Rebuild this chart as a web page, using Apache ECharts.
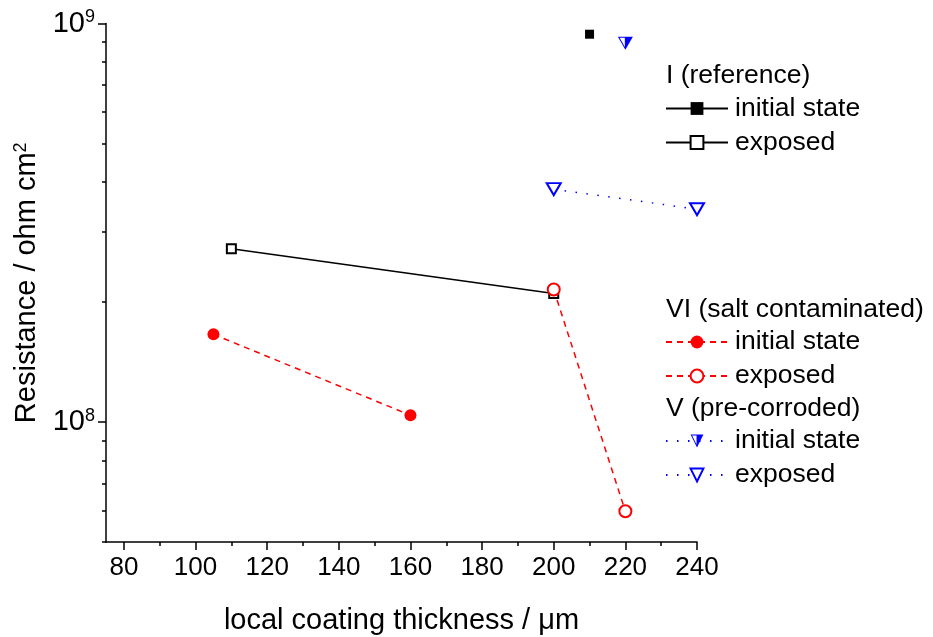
<!DOCTYPE html>
<html><head><meta charset="utf-8">
<script src="https://cdn.jsdelivr.net/npm/echarts@6/dist/echarts.min.js"></script>
<style>html,body{margin:0;padding:0;background:#fff}#c{width:933px;height:637px}</style>
</head><body><div id="c"></div>
<script>
// ---- data ----
const refInitX = [210];        const refInitY = [9.4e8];
const refExpX  = [110, 200];   const refExpY  = [2.72e8, 2.10e8];
const saltInitX = [105, 160];  const saltInitY = [1.66e8, 1.04e8];
const saltExpX  = [200, 220];  const saltExpY  = [2.15e8, 5.97e7];
const corrInitX = [220];       const corrInitY = [8.92e8];
const corrExpX  = [200, 240];  const corrExpY  = [3.84e8, 3.42e8];

const xMajorTicks = [80, 100, 120, 140, 160, 180, 200, 220, 240];
const xMinorTicks = [90, 110, 130, 150, 170, 190, 210, 230];
const yMajorTicks = [1e8, 1e9];
const yMinorTicks = [5e7, 6e7, 7e7, 8e7, 9e7, 2e8, 3e8, 4e8, 5e8, 6e8, 7e8, 8e8, 9e8];

const groupTitles = ['I (reference)', 'VI (salt contaminated)', 'V (pre-corroded)'];
const entryLabels = { refInit: 'initial state', refExp: 'exposed', saltInit: 'initial state', saltExp: 'exposed', corrInit: 'initial state', corrExp: 'exposed' };

const zip = (xs, ys) => xs.map((x, i) => [x, ys[i]]);
const FONT = '"Liberation Sans", Arial, sans-serif';
const halfTri = 'path://M0,0 L20,0 L10,17 Z M2.4,1.3 L9.3,13.2 L9.3,1.3 Z';

const chart = echarts.init(document.getElementById('c'), null, { renderer: 'canvas' });
const axisCommon = { lineStyle: { color: '#000', width: 1.5 } };
const option = {
  animation: false,
  backgroundColor: '#fff',
  grid: { left: 106, right: 236, top: 23.5, bottom: 95, containLabel: false, outerBoundsMode: 'none' },
  xAxis: [
    { type: 'value', min: 75, max: 240, position: 'bottom',
      axisLine: { show: true, ...axisCommon },
      axisTick: { show: true, length: 8, lineStyle: { color: '#000', width: 1.5 }, customValues: xMajorTicks },
      axisLabel: { customValues: xMajorTicks, fontSize: 26, color: '#000', fontFamily: FONT, margin: 13 },
      splitLine: { show: false },
      name: 'local coating thickness / μm', nameLocation: 'middle', nameGap: 64,
      nameTextStyle: { fontSize: 29, color: '#000', fontFamily: FONT } },
    { type: 'value', min: 75, max: 240, position: 'bottom', offset: 0,
      axisLine: { show: false },
      axisTick: { show: true, length: 4, lineStyle: { color: '#000', width: 1.5 }, customValues: xMinorTicks },
      axisLabel: { show: false }, splitLine: { show: false } }
  ],
  yAxis: [
    { type: 'log', logBase: 10, min: 5e7, max: 1e9, position: 'left',
      axisLine: { show: true, ...axisCommon },
      axisTick: { show: true, length: 8, lineStyle: { color: '#000', width: 1.5 }, customValues: yMajorTicks },
      axisLabel: { customValues: yMajorTicks, color: '#000', fontFamily: FONT, margin: 11,
        formatter: v => '{b|10}{s|' + Math.round(Math.log10(v)) + '}',
        rich: { b: { fontSize: 29, fontFamily: FONT, color: '#000', lineHeight: 30 },
                s: { fontSize: 18, fontFamily: FONT, color: '#000', verticalAlign: 'top', lineHeight: 17 } } },
      splitLine: { show: false },
      name: '{n|Resistance / ohm cm}{s|2}', nameLocation: 'middle', nameGap: 57,
      nameTextStyle: { rich: { n: { fontSize: 29, fontFamily: FONT, color: '#000', lineHeight: 31 },
                               s: { fontSize: 18, fontFamily: FONT, color: '#000', verticalAlign: 'top', lineHeight: 18 } } } },
    { type: 'log', logBase: 10, min: 5e7, max: 1e9, position: 'left', offset: 0,
      axisLine: { show: false },
      axisTick: { show: true, length: 4, lineStyle: { color: '#000', width: 1.5 }, customValues: yMinorTicks },
      axisLabel: { show: false }, splitLine: { show: false } }
  ],
  legend: [
    { data: ['refInit', 'refExp'], orient: 'vertical', left: 665, top: 95 },
    { data: ['saltInit', 'saltExp'], orient: 'vertical', left: 665, top: 328.5 },
    { data: ['corrInit', 'corrExp'], orient: 'vertical', left: 665, top: 427.5 }
  ].map(l => Object.assign(l, {
    itemWidth: 62, itemHeight: 16, itemGap: 7, padding: 0, selectedMode: false,
    formatter: n => entryLabels[n],
    textStyle: { fontSize: 26.5, fontFamily: FONT, color: '#000', lineHeight: 23, padding: [0, 0, 0, 2] }
  })),
  graphic: groupTitles.map((t, i) => ({
    type: 'text', left: 666, top: [62, 296, 395][i],
    style: { text: t, fontSize: 26.5, fontFamily: FONT, fill: '#000' }
  })),
  series: [
    { name: 'refInit', type: 'line', data: zip(refInitX, refInitY), symbol: 'rect', symbolSize: 9,
      itemStyle: { color: '#000' }, lineStyle: { color: '#000', width: 1.5 } },
    { name: 'refExp', type: 'line', data: zip(refExpX, refExpY), symbol: 'emptyRect', symbolSize: 9,
      itemStyle: { color: '#000', borderWidth: 1.2 }, lineStyle: { color: '#000', width: 1.5 } },
    { name: 'saltInit', type: 'line', data: zip(saltInitX, saltInitY), symbol: 'circle', symbolSize: 12,
      itemStyle: { color: '#ff0000' }, lineStyle: { color: '#ff0000', width: 1.5, type: [6, 5] } },
    { name: 'saltExp', type: 'line', data: zip(saltExpX, saltExpY), symbol: 'emptyCircle', symbolSize: 12,
      itemStyle: { color: '#ff0000', borderWidth: 1.2 }, lineStyle: { color: '#ff0000', width: 1.5, type: [6, 5] } },
    { name: 'corrInit', type: 'line', data: zip(corrInitX, corrInitY), symbol: halfTri, symbolSize: [15, 13],
      itemStyle: { color: '#0000ff', borderWidth: 0 }, lineStyle: { color: '#0000ff', width: 1.5, type: [1.5, 9.5] } },
    { name: 'corrExp', type: 'line', data: zip(corrExpX, corrExpY), symbol: 'emptyTriangle', symbolRotate: 180, symbolSize: [14, 12],
      itemStyle: { color: '#0000ff', borderWidth: 1.2 }, lineStyle: { color: '#0000ff', width: 1.5, type: [1.5, 9.5] } }
  ]
};
chart.setOption(option);
</script></body></html>
